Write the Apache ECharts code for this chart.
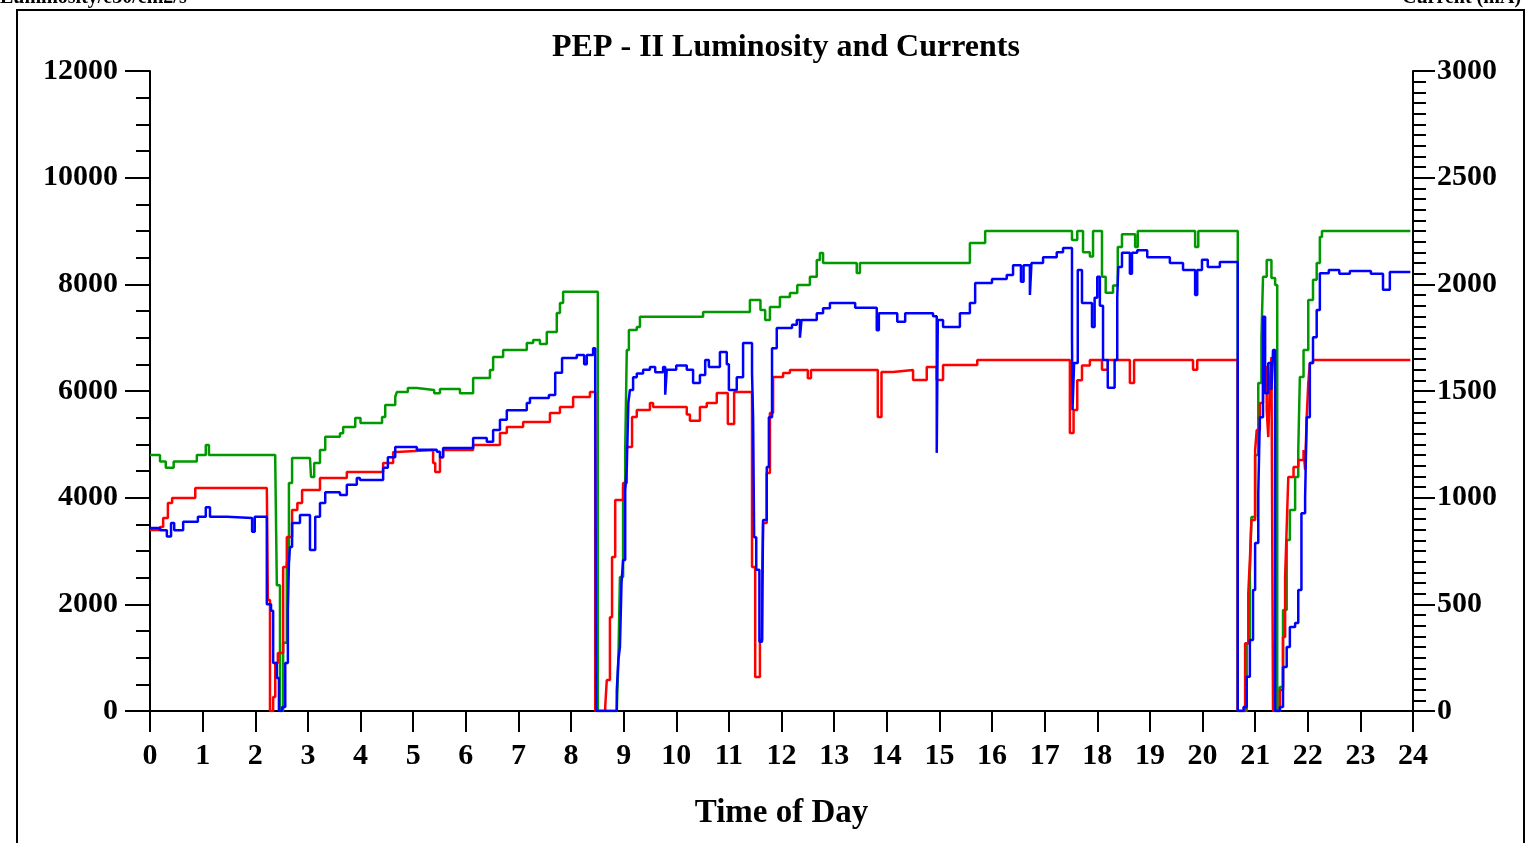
<!DOCTYPE html>
<html>
<head>
<meta charset="utf-8">
<script src="https://cdn.jsdelivr.net/npm/echarts@6/dist/echarts.min.js"></script>
<style>
html,body{margin:0;padding:0;background:#fff;}
#chart{width:1526px;height:843px;}
</style>
</head>
<body>
<div id="chart"></div>
<script>
// ---- data (time of day in hours) ----
var xTicks = [0,1,2,3,4,5,6,7,8,9,10,11,12,13,14,15,16,17,18,19,20,21,22,23,24];
var leftTicks = [0,2000,4000,6000,8000,10000,12000];
var rightTicks = [0,500,1000,1500,2000,2500,3000];

// Luminosity (left axis, e30/cm2/s)
var luminosity = [
[0,3430],[0.19,3390],[0.32,3270],[0.40,3525],[0.46,3390],[0.63,3550],[0.91,3640],[1.06,3820],[1.14,3640],
[1.46,3620],[1.94,3360],[1.99,3640],[2.22,2000],[2.30,1880],[2.34,900],[2.41,620],[2.45,0],[2.51,75],
[2.57,900],[2.62,1900],[2.64,2775],[2.66,3075],[2.70,3525],[2.85,3675],[3.04,3020],[3.14,3640],[3.23,3900],
[3.33,4100],[3.61,4050],[3.74,4240],[3.93,4370],[3.99,4330],[4.43,4560],[4.52,4760],[4.66,4950],[5.07,4900],
[5.45,4860],[5.51,4760],[5.57,4930],[6.14,5120],[6.40,5050],[6.52,5270],[6.65,5460],[6.78,5640],[7.16,5775],
[7.22,5870],[7.58,5925],[7.70,6340],[7.83,6620],[8.11,6675],[8.25,6500],[8.30,6675],[8.42,6800],[8.46,6020],
[8.48,0],[8.87,390],[8.90,960],[8.93,1200],[8.96,2400],[8.99,2830],[9.03,4140],[9.06,4580],[9.09,5780],
[9.12,6020],[9.18,6260],[9.25,6330],[9.37,6400],[9.50,6450],[9.60,6350],[9.75,6450],[9.79,5930],[9.82,6400],
[10.0,6480],[10.2,6400],[10.32,6150],[10.45,6300],[10.55,6580],[10.62,6450],[10.83,6730],[10.96,6500],
[11.00,6020],[11.15,6260],[11.27,6900],[11.40,6900],[11.44,6340],[11.46,5510],[11.48,3260],[11.52,2650],
[11.58,1300],[11.63,1300],[11.65,3580],[11.72,4575],[11.76,5510],[11.82,6800],[11.91,7180],[12.2,7240],
[12.29,7330],[12.35,7000],[12.38,7330],[12.67,7460],[12.79,7550],[12.92,7650],[13.40,7560],[13.81,7140],
[13.85,7460],[14.2,7300],[14.35,7460],[14.88,7400],[14.95,4840],[14.97,7330],[15.07,7200],[15.39,7460],
[15.58,7650],[15.68,8025],[16.0,8100],[16.28,8175],[16.40,8360],[16.55,8050],[16.60,8360],[16.72,7800],
[16.75,8400],[16.97,8510],[17.23,8600],[17.35,8680],[17.52,7010],[17.53,5640],[17.56,6525],[17.63,8270],
[17.71,7650],[17.90,7200],[17.95,7750],[18.00,8140],[18.05,7600],[18.11,6580],[18.20,6060],[18.33,6580],
[18.38,7760],[18.40,8325],[18.47,8590],[18.62,8200],[18.66,8590],[18.76,8640],[18.95,8510],[19.38,8400],
[19.63,8270],[19.86,7800],[19.90,8270],[19.99,8460],[20.10,8325],[20.33,8420],[20.67,0],[20.78,75],
[20.84,640],[20.90,1330],[20.96,2270],[21.00,3150],[21.06,4090],[21.09,5510],[21.15,7390],[21.19,5960],
[21.25,6525],[21.31,6020],[21.34,6770],[21.38,0],[21.47,75],[21.53,825],[21.60,1200],[21.66,1575],
[21.76,1650],[21.82,2270],[21.88,3710],[21.95,4010],[21.98,5510],[22.04,6525],[22.10,7010],[22.17,7520],
[22.23,8210],[22.4,8270],[22.6,8200],[22.8,8250],[23.2,8200],[23.43,7900],[23.56,8230],[23.95,8230]
];

// Red current (right axis, mA)
var currentRed = [
[0,848],[0.19,862],[0.25,905],[0.34,975],[0.42,998],[0.86,1045],[2.22,1045],[2.24,520],[2.28,0],
[2.34,66],[2.38,225],[2.43,272],[2.53,675],[2.60,816],[2.70,942],[2.80,975],[2.89,1036],[3.23,1092],
[3.74,1120],[4.43,1162],[4.62,1214],[4.69,1223],[5.38,1162],[5.42,1120],[5.51,1190],[5.57,1223],
[6.14,1247],[6.65,1303],[6.78,1331],[7.09,1355],[7.60,1397],[7.79,1425],[8.04,1472],[8.36,1495],
[8.46,0],[8.65,20],[8.68,145],[8.74,440],[8.78,722],[8.84,989],[8.99,1069],[9.06,1237],[9.16,1378],
[9.25,1411],[9.50,1444],[9.56,1425],[10.20,1390],[10.26,1360],[10.45,1425],[10.58,1444],[10.77,1491],
[10.98,1345],[11.10,1495],[11.44,675],[11.50,159],[11.59,333],[11.63,581],[11.65,881],[11.72,1116],
[11.78,1397],[11.84,1566],[12.03,1584],[12.16,1598],[12.50,1560],[12.56,1598],[13.83,1378],[13.90,1589],
[14.12,1598],[14.50,1552],[14.76,1613],[14.95,1552],[15.07,1622],[15.72,1645],[17.48,1303],[17.55,1411],
[17.62,1550],[17.71,1620],[17.86,1645],[18.09,1600],[18.20,1645],[18.62,1537],[18.70,1645],[19.82,1600],
[19.90,1645],[20.67,0],[20.81,318],[20.87,553],[20.90,708],[20.93,895],[21.00,1223],[21.03,1317],
[21.09,1444],[21.15,1613],[21.22,1411],[21.25,1284],[21.28,1537],[21.31,1659],[21.34,0],[21.47,98],
[21.53,347],[21.57,628],[21.60,862],[21.63,1097],[21.73,1144],[21.82,1177],[21.92,1223],[21.95,1130],
[21.98,1378],[22.01,1537],[22.04,1631],[22.10,1645],[23.95,1645]
];

// Green current (right axis, mA)
var currentGreen = [
[0,1200],[0.19,1170],[0.30,1140],[0.45,1170],[0.89,1200],[1.06,1247],[1.12,1200],[2.34,1200],[2.38,1170],
[2.41,590],[2.47,0],[2.53,320],[2.60,700],[2.64,1069],[2.70,1186],[3.04,1186],[3.06,1097],[3.12,1163],
[3.23,1223],[3.33,1285],[3.61,1302],[3.67,1331],[3.90,1373],[4.00,1350],[4.41,1378],[4.47,1434],
[4.66,1472],[4.69,1495],[4.90,1514],[5.07,1505],[5.40,1490],[5.51,1509],[5.89,1490],[6.14,1561],
[6.46,1598],[6.52,1659],[6.71,1692],[7.16,1725],[7.28,1739],[7.41,1720],[7.54,1777],[7.73,1866],
[7.79,1912],[7.85,1965],[8.51,0],[8.87,0],[8.90,239],[8.93,628],[8.99,1050],[9.03,1223],[9.06,1692],
[9.10,1786],[9.25,1800],[9.31,1848],[10.51,1870],[11.40,1927],[11.53,1927],[11.60,1880],[11.69,1833],
[11.78,1894],[11.97,1941],[12.16,1959],[12.30,1997],[12.54,2035],[12.67,2114],[12.73,2147],[12.79,2100],
[13.43,2053],[13.49,2100],[15.58,2194],[15.87,2250],[17.52,2208],[17.62,2250],[17.73,2150],[17.86,2130],
[17.92,2250],[18.09,2035],[18.16,1960],[18.30,1995],[18.39,2175],[18.47,2235],[18.72,2175],[18.77,2250],
[19.86,2175],[19.92,2250],[20.67,0],[20.78,0],[20.84,318],[20.90,647],[20.93,909],[21.00,1200],
[21.06,1538],[21.12,1753],[21.15,2035],[21.22,2114],[21.31,2030],[21.38,1997],[21.42,0],[21.47,112],
[21.53,473],[21.60,802],[21.66,942],[21.76,1097],[21.82,1223],[21.85,1566],[21.92,1692],[22.01,1927],
[22.10,2021],[22.17,2100],[22.23,2222],[22.27,2250],[23.95,2250]
];

var chart = echarts.init(document.getElementById('chart'), null, {renderer:'canvas'});
var FONT = 'Liberation Serif';
var labelStyle = {fontFamily: FONT, fontWeight: 'bold', fontSize: 30, color: '#000'};

function mkSeries(name, data, color, yIdx) {
  return {
    name: name, type: 'line', data: data, yAxisIndex: yIdx,
    step: 'end', showSymbol: false, symbol: 'none', animation: false,
    lineStyle: {color: color, width: 2.5}, itemStyle: {color: color}
  };
}

chart.setOption({
  animation: false,
  backgroundColor: '#fff',
  title: {
    text: 'PEP - II Luminosity and Currents',
    left: 781, top: 27, textAlign: 'center',
    textStyle: {fontFamily: FONT, fontWeight: 'bold', fontSize: 32, color: '#000'}
  },
  grid: {left: 150, right: 113, top: 71, bottom: 132, containLabel: false},
  xAxis: {
    type: 'value', min: 0, max: 24, interval: 1,
    name: 'Time of Day', nameLocation: 'middle', nameGap: 86,
    nameTextStyle: {fontFamily: FONT, fontWeight: 'bold', fontSize: 33, color: '#000'},
    axisLine: {lineStyle: {color: '#000', width: 2}},
    axisTick: {show: true, inside: false, length: 21, lineStyle: {color: '#000', width: 2}},
    axisLabel: Object.assign({margin: 30, formatter: function(v){return xTicks.indexOf(v) >= 0 ? String(v) : '';}}, labelStyle),
    splitLine: {show: false}
  },
  yAxis: [
    {
      type: 'value', min: 0, max: 12000, interval: 2000, position: 'left',
      axisLine: {show: true, lineStyle: {color: '#000', width: 2}},
      axisTick: {show: true, length: 25, lineStyle: {color: '#000', width: 2}},
      minorTick: {show: true, splitNumber: 4, length: 14, lineStyle: {color: '#000', width: 2}},
      axisLabel: Object.assign({margin: 32, formatter: function(v){return leftTicks.indexOf(v) >= 0 ? String(v) : '';}}, labelStyle),
      splitLine: {show: false}
    },
    {
      type: 'value', min: 0, max: 3000, interval: 500, position: 'right',
      axisLine: {show: true, lineStyle: {color: '#000', width: 2}},
      axisTick: {show: true, length: 22, lineStyle: {color: '#000', width: 2}},
      minorTick: {show: true, splitNumber: 10, length: 13, lineStyle: {color: '#000', width: 2}},
      axisLabel: Object.assign({margin: 24, formatter: function(v){return rightTicks.indexOf(v) >= 0 ? String(v) : '';}}, labelStyle),
      splitLine: {show: false}
    }
  ],
  series: [
    mkSeries('Current green', currentGreen, '#009900', 1),
    mkSeries('Current red', currentRed, '#ff0000', 1),
    mkSeries('Luminosity', luminosity, '#0000ff', 0)
  ],
  graphic: [
    {type: 'polyline', shape: {points: [[17,843],[17,10],[1524,10],[1524,843]]}, style: {stroke: '#000', lineWidth: 2, fill: null}, z: 10},
    {type: 'text', left: 0, top: -12, style: {text: 'Luminosity/e30/cm2/s', fontFamily: FONT, fontWeight: 'bold', fontSize: 20, fill: '#000'}, z: 11},
    {type: 'text', left: 1402, top: -12, style: {text: 'Current (mA)', fontFamily: FONT, fontWeight: 'bold', fontSize: 20, fill: '#000'}, z: 11}
  ]
});
</script>
</body>
</html>
